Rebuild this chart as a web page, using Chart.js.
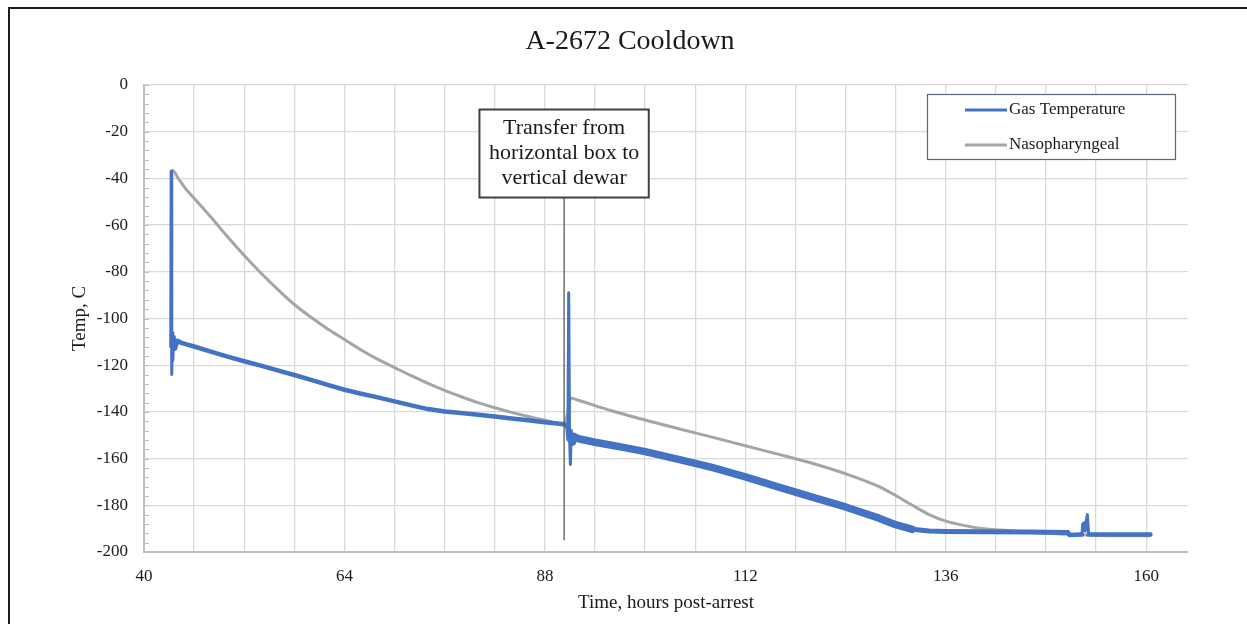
<!DOCTYPE html>
<html><head><meta charset="utf-8">
<script src="https://cdn.jsdelivr.net/npm/chart.js@4.4.1/dist/chart.umd.min.js"></script>
<style>
html,body{margin:0;padding:0;background:#fff;}
#wrap{position:relative;width:1247px;height:624px;overflow:hidden;background:#fff;}
#frame{position:absolute;left:8px;top:7px;width:2000px;height:2000px;border-left:2px solid #1c1c1c;border-top:2px solid #1c1c1c;pointer-events:none;}
canvas{position:absolute;left:0;top:0;}
</style></head><body>
<div id="wrap"><canvas id="c" width="1247" height="624"></canvas><div id="frame"></div></div>
<script>
// ---------- data ----------
const chartTitle = 'A-2672 Cooldown';
const xAxisTitle = 'Time, hours post-arrest';
const yAxisTitle = 'Temp, C';
const seriesNames = ['Gas Temperature', 'Nasopharyngeal'];
const annotationLines = ['Transfer from', 'horizontal box to', 'vertical dewar'];
const transferHour = 90.3;
const transferLineBottom = -195;
const annotationTopTemp = -10.5;

const xMin = 40, xMax = 165, xStep = 6, xLabelStep = 24;
const yMin = -200, yMax = 0, yStep = 4, yLabelStep = 20;

const gasHours = [43.2, 43.25, 43.3, 43.35, 43.4, 43.45, 43.55, 43.7, 44, 44.5, 45, 46, 48, 50, 52, 54, 56, 58, 60, 62, 64, 66, 68, 70, 72, 74, 76, 78, 80, 82, 84, 86, 88, 90.3, 90.6, 90.75, 90.85, 90.95, 91.05, 91.15, 91.3, 91.5, 92, 94, 96, 98, 100, 104, 108, 112, 116, 120, 124, 128, 130, 132, 134, 136, 140, 146, 150.6, 150.8, 152.3, 152.4, 152.6, 152.7, 152.85, 152.95, 153.1, 160.5];
const gasTemp  = [-112, -37, -100, -124, -106, -118, -108, -113, -109.5, -110.5, -111, -112, -114.2, -116.3, -118.3, -120.2, -122.2, -124.2, -126.3, -128.4, -130.5, -132.2, -133.8, -135.5, -137.2, -138.8, -139.8, -140.5, -141.2, -142, -142.8, -143.6, -144.4, -145.3, -146, -152, -89, -150, -162.5, -148, -153, -150.5, -151.5, -153, -154.3, -155.6, -157, -160.3, -163.8, -167.8, -172.2, -176.5, -180.7, -185.5, -188.3, -190.3, -191, -191.2, -191.3, -191.4, -191.6, -192.7, -192.5, -188, -187.5, -191, -186, -184, -192.5, -192.5];

const nasoHours = [43.2, 43.4, 43.7, 44, 44.5, 45, 46, 47, 48, 50, 52, 54, 56, 58, 60, 62, 64, 66, 68, 70, 72, 74, 76, 78, 80, 82, 84, 86, 88, 90.3, 90.7, 91.1, 92, 94, 96, 100, 104, 108, 112, 116, 120, 124, 128, 130, 132, 134, 136, 138, 140, 144, 148, 152, 156, 160.5];
const nasoTemp  = [-37.5, -36.5, -37.5, -39.5, -42, -44.5, -48.5, -52.5, -56.5, -65, -73, -80.5, -87.5, -94, -99.5, -104.5, -109, -113.5, -117.5, -121, -124.5, -127.8, -130.8, -133.5, -136, -138.2, -140.2, -142, -143.6, -145.2, -141, -134, -135, -137.3, -139.5, -143.5, -147.2, -150.8, -154.5, -158.2, -162, -166.5, -172, -175.8, -180, -184, -186.8, -188.5, -189.8, -191, -192, -192.6, -193, -193];

// ---------- styles ----------
const SERIF = "'Liberation Serif', 'Times New Roman', serif";
const gasColor = '#4472C4';
const nasoColor = '#A5A5A5';
const gridColor = '#d9d9d9';
const axisColor = '#bfbfbf';
const textColor = '#1a1a1a';

const toPts = (xs, ys) => xs.map((x, i) => ({x, y: ys[i]}));

const titlePlugin = {
  id: 'fixedTitle',
  afterDraw(chart) {
    const ctx = chart.ctx;
    ctx.save();
    ctx.font = '28px ' + SERIF;
    ctx.fillStyle = textColor;
    ctx.textAlign = 'center';
    ctx.textBaseline = 'middle';
    ctx.fillText(chartTitle, 630, 42);
    ctx.restore();
  }
};

const minorTickPlugin = {
  id: 'minorTicks',
  afterDatasetsDraw(chart) {
    const ctx = chart.ctx, y = chart.scales.y, a = chart.chartArea;
    ctx.save();
    ctx.strokeStyle = axisColor;
    ctx.lineWidth = 1;
    y.ticks.forEach(t => {
      const py = Math.round(y.getPixelForValue(t.value)) + 0.5;
      ctx.beginPath(); ctx.moveTo(a.left, py); ctx.lineTo(a.left + 5, py); ctx.stroke();
    });
    ctx.restore();
  }
};

const annotationPlugin = {
  id: 'transferNote',
  afterDatasetsDraw(chart) {
    const ctx = chart.ctx, xs = chart.scales.x, ys = chart.scales.y;
    const cx = xs.getPixelForValue(transferHour);
    const top = ys.getPixelForValue(annotationTopTemp);
    ctx.save();
    ctx.font = '22px ' + SERIF;
    const lh = 25;
    const w = Math.max(...annotationLines.map(s => ctx.measureText(s).width)) + 19;
    const h = lh * annotationLines.length + 13;
    const left = cx - w / 2;
    ctx.strokeStyle = '#595959';
    ctx.lineWidth = 1.3;
    ctx.beginPath();
    ctx.moveTo(cx, ys.getPixelForValue(transferLineBottom));
    ctx.lineTo(cx, top + h);
    ctx.stroke();
    ctx.fillStyle = '#fff';
    ctx.fillRect(left, top, w, h);
    ctx.strokeStyle = '#404040';
    ctx.lineWidth = 2;
    ctx.strokeRect(left, top, w, h);
    ctx.fillStyle = textColor;
    ctx.textAlign = 'center';
    ctx.textBaseline = 'middle';
    annotationLines.forEach((s, i) => ctx.fillText(s, cx, top + 6.5 + lh * (i + 0.5)));
    ctx.restore();
  }
};

const legendPlugin = {
  id: 'boxLegend',
  afterDraw(chart) {
    const ctx = chart.ctx, a = chart.chartArea;
    const bw = 248, bh = 65;
    const bx = a.right - 13 - bw, by = a.top + 9;
    ctx.save();
    ctx.fillStyle = '#fff';
    ctx.fillRect(bx, by, bw, bh);
    ctx.strokeStyle = '#5b6579';
    ctx.lineWidth = 1.2;
    ctx.strokeRect(bx + 0.5, by + 0.5, bw, bh);
    ctx.font = '17px ' + SERIF;
    ctx.textBaseline = 'middle';
    ctx.textAlign = 'left';
    chart.data.datasets.forEach((ds, i) => {
      const cy = by + 16 + i * 35;
      ctx.strokeStyle = ds.borderColor;
      ctx.lineWidth = 3;
      ctx.beginPath(); ctx.moveTo(bx + 38, cy); ctx.lineTo(bx + 80, cy); ctx.stroke();
      ctx.fillStyle = textColor;
      ctx.fillText(ds.label, bx + 82, cy);
    });
    ctx.restore();
  }
};

new Chart(document.getElementById('c'), {
  type: 'line',
  data: {
    datasets: [
      {
        label: seriesNames[0],
        data: toPts(gasHours, gasTemp),
        borderColor: gasColor,
        backgroundColor: gasColor,
        borderWidth: 4.5,
        borderJoinStyle: 'round',
        borderCapStyle: 'round',
        pointRadius: 0,
        tension: 0,
        segment: {
          borderWidth: c => {
            const x0 = c.p0.parsed.x, x1 = c.p1.parsed.x;
            if (x1 <= 43.55) return 3;
            if (x0 >= 90.6 && x1 <= 91.3) return 3;
            if (x0 >= 91.2 && x1 <= 132) return 7.5;
            if (x0 >= 132 && x1 <= 150.6) return 5;
            if (x0 >= 152.3 && x1 <= 153.1) return 3;
            return 4.5;
          }
        }
      },
      {
        label: seriesNames[1],
        data: toPts(nasoHours, nasoTemp),
        borderColor: nasoColor,
        backgroundColor: nasoColor,
        borderWidth: 3,
        borderJoinStyle: 'round',
        pointRadius: 0,
        cubicInterpolationMode: 'monotone'
      }
    ]
  },
  options: {
    responsive: false,
    animation: false,
    devicePixelRatio: 1,
    layout: { padding: { left: 60, top: 85, right: 59, bottom: 0 } },
    plugins: { legend: { display: false }, title: { display: false }, tooltip: { enabled: false } },
    scales: {
      x: {
        type: 'linear',
        min: xMin, max: xMax,
        afterFit: s => { s.height = 72; },
        afterBuildTicks: s => {
          const t = [];
          for (let v = xMin; v <= xMax; v += xStep) t.push({ value: v });
          s.ticks = t;
        },
        grid: { color: gridColor, lineWidth: 1.3, drawTicks: false },
        border: { color: axisColor, width: 2 },
        ticks: {
          autoSkip: false, maxRotation: 0, padding: 14,
          color: textColor, font: { family: SERIF, size: 17 },
          callback: v => ((v - xMin) % xLabelStep === 0 ? String(v) : '')
        },
        title: { display: true, text: xAxisTitle, color: textColor, font: { family: SERIF, size: 19 }, padding: { top: 0, bottom: 10 } }
      },
      y: {
        type: 'linear',
        min: yMin, max: yMax,
        afterFit: s => { s.width = 84; },
        grid: {
          color: c => (c.tick && c.tick.value % yLabelStep === 0 ? gridColor : 'rgba(0,0,0,0)'),
          lineWidth: 1.3, drawTicks: false
        },
        border: { color: axisColor, width: 2 },
        ticks: {
          stepSize: yStep, maxTicksLimit: 200, autoSkip: false, padding: 16,
          color: textColor, font: { family: SERIF, size: 17 },
          callback: v => (v % yLabelStep === 0 ? String(v) : '')
        },
        title: { display: true, text: yAxisTitle, color: textColor, font: { family: SERIF, size: 19 }, padding: { top: 9, bottom: 0 } }
      }
    }
  },
  plugins: [titlePlugin, minorTickPlugin, annotationPlugin, legendPlugin]
});
</script>
</body></html>
